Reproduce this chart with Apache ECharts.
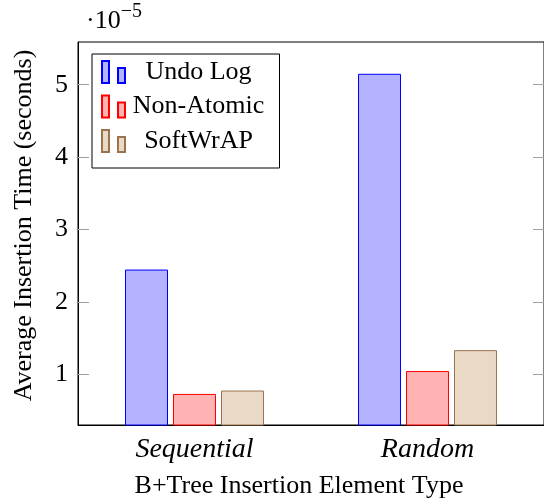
<!DOCTYPE html>
<html>
<head>
<meta charset="utf-8">
<script src="https://cdn.jsdelivr.net/npm/echarts@6/dist/echarts.min.js"></script>
<style>
  html, body { margin: 0; padding: 0; background: #fff; }
  #chart { width: 544px; height: 504px; }
</style>
</head>
<body>
<div id="chart"></div>
<script>
// values are in units of 1e-5 seconds
const categories = ["Sequential", "Random"];
const undoLog = [2.447, 5.151];
const nonAtomic = [0.729, 1.045];
const softWrap = [0.776, 1.334];
const yTicks = [1, 2, 3, 4, 5];

const serif = "Liberation Serif";
const tickGray = "#a0a0a0";

const chart = echarts.init(document.getElementById("chart"));

const legendIcon = "path://M0,0h7v22h-7z M16,7h7v15h-7z";

function barSeries(name, data, fill, stroke) {
  return {
    name: name,
    type: "bar",
    data: data,
    barWidth: 43,
    barGap: "11.6%",
    itemStyle: {
      color: fill,
      borderColor: stroke,
      borderWidth: 1,
    },
    emphasis: { disabled: true },
  };
}

const option = {
  animation: false,
  grid: {
    left: 78,
    right: -1,
    top: 42,
    bottom: 77,
    show: true,
    borderColor: "#000",
    borderWidth: 1,
  },
  legend: {
    left: 92,
    top: 54,
    orient: "vertical",
    padding: [5, 13, 14, 9],
    itemWidth: 24,
    itemHeight: 22,
    itemGap: 8.5,
    itemTextGap: 5,
    icon: legendIcon,
    borderColor: "#000",
    borderWidth: 1,
    backgroundColor: "#fff",
    selectedMode: false,
    formatter: "{a|{name}}",
    textStyle: {
      rich: {
        a: {
          width: 136,
          align: "center",
          fontSize: 26,
          lineHeight: 24,
          fontFamily: serif,
          color: "#000",
        },
      },
    },
  },
  xAxis: [
    {
      type: "category",
      data: categories,
      position: "bottom",
      axisLine: { lineStyle: { color: "#000", width: 1 } },
      axisTick: {
        alignWithLabel: true,
        inside: false,
        length: 11,
        lineStyle: { color: tickGray },
      },
      axisLabel: {
        margin: 11,
        fontSize: 28,
        fontStyle: "italic",
        fontFamily: serif,
        color: "#000",
      },
      name: "B+Tree Insertion Element Type",
      nameLocation: "middle",
      nameGap: 48,
      nameTextStyle: {
        fontSize: 26,
        fontFamily: serif,
        color: "#000",
        padding: [0, 24, 0, 0],
      },
    },
    {
      type: "category",
      data: categories,
      position: "top",
      axisLine: { show: false },
      axisTick: {
        alignWithLabel: true,
        inside: false,
        length: 11,
        lineStyle: { color: tickGray },
      },
      axisLabel: { show: false },
    },
  ],
  yAxis: [
    {
      type: "value",
      min: 0.3,
      max: 5.59,
      axisLine: { show: true, lineStyle: { color: "#000", width: 1 } },
      splitLine: { show: false },
      axisTick: {
        show: true,
        inside: true,
        length: 11,
        customValues: yTicks,
        lineStyle: { color: tickGray },
      },
      axisLabel: {
        customValues: yTicks,
        margin: 10,
        fontSize: 26,
        fontFamily: serif,
        color: "#000",
      },
      name: "Average Insertion Time (seconds)",
      nameLocation: "middle",
      nameGap: 41,
      nameTextStyle: {
        fontSize: 26,
        fontFamily: serif,
        color: "#000",
        padding: [0, 0, 0, 16],
      },
    },
    {
      type: "value",
      position: "right",
      min: 0.3,
      max: 5.59,
      axisLine: { show: false },
      splitLine: { show: false },
      axisTick: {
        show: true,
        inside: true,
        length: 11,
        customValues: yTicks,
        lineStyle: { color: tickGray },
      },
      axisLabel: { show: false },
    },
  ],
  graphic: [
    {
      type: "text",
      left: 86,
      top: 2,
      style: {
        text: "{b|·10}{s|−5}",
        rich: {
          b: { fontSize: 26, fontFamily: serif, fill: "#000", verticalAlign: "bottom", lineHeight: 32 },
          s: { fontSize: 20, fontFamily: serif, fill: "#000", verticalAlign: "top", lineHeight: 32, padding: [0, 0, 14, 0] },
        },
      },
    },
  ],
  series: [
    barSeries("Undo Log", undoLog, "#b3b3ff", "#0000ff"),
    barSeries("Non-Atomic", nonAtomic, "#ffb3b3", "#ff0000"),
    barSeries("SoftWrAP", softWrap, "#ead9c5", "#9a7450"),
  ],
};

chart.setOption(option);
</script>
</body>
</html>
